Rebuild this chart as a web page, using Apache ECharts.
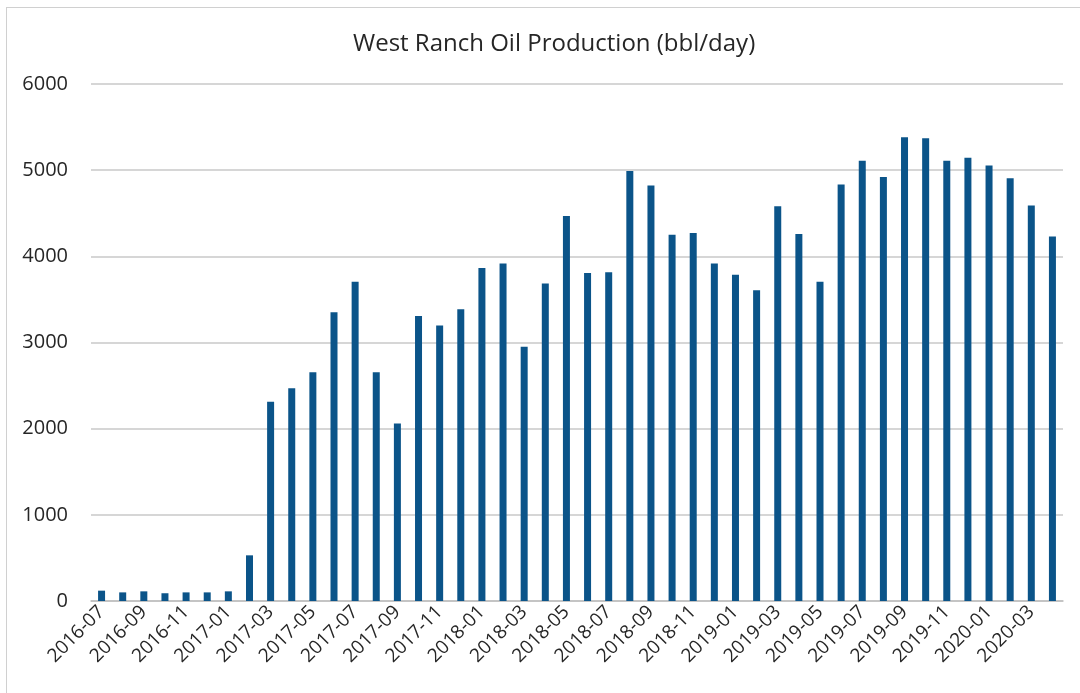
<!DOCTYPE html>
<html lang="en">
<head>
    <meta charset="utf-8">
    <script src="https://cdn.jsdelivr.net/npm/echarts@6/dist/echarts.min.js"></script>
    <title>West Ranch Oil Production</title>
    <style>
        html, body { margin: 0; padding: 0; background: #fff; }
        #frame { position: absolute; left: 6px; top: 7px; width: 1100px; height: 700px;
                 border-left: 1px solid #d0d0d0; border-top: 1px solid #d0d0d0; }
    </style>
</head>
<body>
<div id="frame"></div>
<div id="main" style="position:absolute;left:0;top:0;width: 1080px;height:693px;"></div>
<script type="text/javascript">
    // monthly oil production, bbl/day
    var months = [
        '2016-07', '2016-08', '2016-09', '2016-10', '2016-11', '2016-12',
        '2017-01', '2017-02', '2017-03', '2017-04', '2017-05', '2017-06',
        '2017-07', '2017-08', '2017-09', '2017-10', '2017-11', '2017-12',
        '2018-01', '2018-02', '2018-03', '2018-04', '2018-05', '2018-06',
        '2018-07', '2018-08', '2018-09', '2018-10', '2018-11', '2018-12',
        '2019-01', '2019-02', '2019-03', '2019-04', '2019-05', '2019-06',
        '2019-07', '2019-08', '2019-09', '2019-10', '2019-11', '2019-12',
        '2020-01', '2020-02', '2020-03', '2020-04'
    ];
    var production = [
        120, 100, 112, 90, 100, 100,
        112, 530, 2313, 2470, 2655, 3350,
        3705, 2655, 2060, 3308, 3197, 3387,
        3864, 3918, 2952, 3686, 4469, 3806,
        3814, 4990, 4822, 4250, 4270, 3918,
        3785, 3607, 4581, 4258, 3706, 4834,
        5108, 4921, 5381, 5369, 5108, 5145,
        5054, 4905, 4590, 4229
    ];

    var myChart = echarts.init(document.getElementById('main'));
    var font = 'Open Sans';

    var option = {
        animation: false,
        title: {
            text: 'West Ranch Oil Production (bbl/day)',
            left: 348,
            top: 27,
            textStyle: {fontFamily: font, fontSize: 24, fontWeight: 'normal', color: '#262626'}
        },
        grid: {left: 91, right: 17, top: 84, bottom: 92},
        xAxis: {
            type: 'category',
            data: months,
            axisLine: {lineStyle: {color: '#bfbfbf', width: 1.5}},
            axisTick: {show: false},
            axisLabel: {
                interval: 1, rotate: 45, margin: 8,
                fontFamily: font, fontSize: 19, color: '#262626'
            }
        },
        yAxis: {
            type: 'value',
            min: 0, max: 6000, interval: 1000,
            axisLine: {show: false},
            axisTick: {show: false},
            splitLine: {lineStyle: {color: '#c8c8c8', width: 1.5}},
            axisLabel: {
                margin: 23, fontFamily: font, fontSize: 20, color: '#262626',
                formatter: function (v) { return String(v); }
            }
        },
        series: [{
            type: 'bar',
            data: production,
            barWidth: 7,
            itemStyle: {color: '#0b5489'}
        }]
    };

    myChart.setOption(option);
</script>
</body>
</html>
